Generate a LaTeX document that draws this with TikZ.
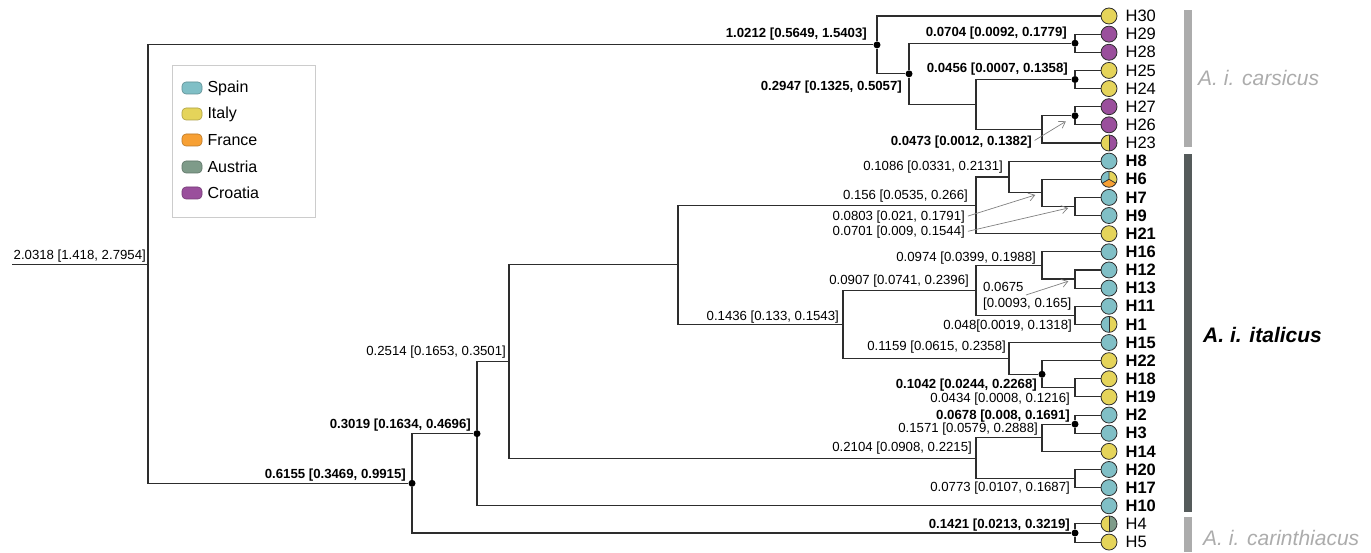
\documentclass[tikz,border=0pt]{standalone}
\usepackage{fontspec}
\setmainfont{Liberation Sans}
\usetikzlibrary{positioning, arrows.meta, calc}

\definecolor{spain}{RGB}{128,191,198}
\definecolor{italy}{RGB}{229,212,90}
\definecolor{france}{RGB}{247,160,52}
\definecolor{austria}{RGB}{126,155,137}
\definecolor{croatia}{RGB}{154,79,156}
\definecolor{branchgray}{RGB}{45,45,45}
\definecolor{barlight}{RGB}{172,172,172}
\definecolor{bardark}{RGB}{85,91,91}

\begin{document}
\begin{tikzpicture}[
        x=1pt, y=1pt,
        label distance=8pt,
        % Define Node Styles
        leaf/.style={draw=branchgray, line width=0.8pt, circle, minimum size=16pt, inner sep=0pt},
        hap/.style={font=\fontsize{16.5}{18}\selectfont, inner sep=0pt},
        hapb/.style={font=\fontsize{16.5}{18}\selectfont\bfseries, inner sep=0pt},
        brl/.style={font=\fontsize{13.2}{15}\selectfont, inner sep=0pt, anchor=east},
        brlb/.style={brl, font=\fontsize{13.2}{15}\selectfont\bfseries},
        dot/.style={circle, fill=black, inner sep=0pt, minimum size=7pt},
        swatch/.style={rectangle, rounded corners=4pt, minimum width=20pt, minimum height=12pt, inner sep=0pt, line width=0.6pt},
        legtext/.style={font=\fontsize{16}{18}\selectfont, inner sep=0pt},
        subsp/.style={font=\fontsize{21}{24}\selectfont\itshape, inner sep=0pt, anchor=west},
        % Pie charts for shared haplotypes
        half/.style 2 args={path picture={
            \fill[#1] (path picture bounding box.south west) rectangle (path picture bounding box.north);
            \fill[#2] (path picture bounding box.north) rectangle (path picture bounding box.south east);
            \draw[branchgray, line width=0.7pt] (path picture bounding box.north) -- (path picture bounding box.south);}},
        tri/.style={path picture={
            \fill[italy] (path picture bounding box.center) -- +(90:9) arc[start angle=90, end angle=-30, radius=9] -- cycle;
            \fill[france] (path picture bounding box.center) -- +(-30:9) arc[start angle=-30, end angle=-150, radius=9] -- cycle;
            \fill[spain] (path picture bounding box.center) -- +(210:9) arc[start angle=210, end angle=90, radius=9] -- cycle;
            \draw[branchgray, line width=0.7pt] (path picture bounding box.center) -- +(90:9)
                (path picture bounding box.center) -- +(-30:9) (path picture bounding box.center) -- +(210:9);}},
        % Define Connector Styles
        branch/.style={draw=branchgray, line width=1.1pt},
        pointer/.style={-{Straight Barb[length=6pt, width=8pt]}, gray, line width=0.7pt, shorten >=7pt, shorten <=3pt}
    ]
    \useasboundingbox (0,0) rectangle (1371,552);

    % Legend
    \node[draw=black!20, line width=0.8pt, minimum width=143pt, minimum height=152pt, anchor=north west] (legend) at (172,487) {};
    \node[swatch, fill=spain, draw=spain!75!black] (swSpain) at (192,464) {};
    \node[swatch, fill=italy, draw=italy!75!black] (swItaly) at (192,438) {};
    \node[swatch, fill=france, draw=france!75!black] (swFrance) at (192,412) {};
    \node[swatch, fill=austria, draw=austria!75!black] (swAustria) at (192,385) {};
    \node[swatch, fill=croatia, draw=croatia!75!black] (swCroatia) at (192,359) {};
    \node[legtext, right=5pt of swSpain] (tSpain) {Spain};
    \node[legtext, right=5pt of swItaly] (tItaly) {Italy};
    \node[legtext, right=5pt of swFrance] (tFrance) {France};
    \node[legtext, right=5pt of swAustria] (tAustria) {Austria};
    \node[legtext, right=5pt of swCroatia] (tCroatia) {Croatia};

    % Haplotypes
    \node[leaf, fill=italy, label={[hap]right:H30}] (H30) at (1109,536.00) {};
    \node[leaf, fill=croatia, label={[hap]right:H29}] (H29) at (1109,517.86) {};
    \node[leaf, fill=croatia, label={[hap]right:H28}] (H28) at (1109,499.72) {};
    \node[leaf, fill=italy, label={[hap]right:H25}] (H25) at (1109,481.58) {};
    \node[leaf, fill=italy, label={[hap]right:H24}] (H24) at (1109,463.44) {};
    \node[leaf, fill=croatia, label={[hap]right:H27}] (H27) at (1109,445.30) {};
    \node[leaf, fill=croatia, label={[hap]right:H26}] (H26) at (1109,427.16) {};
    \node[leaf, half={italy}{croatia}, label={[hap]right:H23}] (H23) at (1109,409.02) {};
    \node[leaf, fill=spain, label={[hapb]right:H8}] (H8) at (1109,390.88) {};
    \node[leaf, tri, label={[hapb]right:H6}] (H6) at (1109,372.74) {};
    \node[leaf, fill=spain, label={[hapb]right:H7}] (H7) at (1109,354.60) {};
    \node[leaf, fill=spain, label={[hapb]right:H9}] (H9) at (1109,336.46) {};
    \node[leaf, fill=italy, label={[hapb]right:H21}] (H21) at (1109,318.32) {};
    \node[leaf, fill=spain, label={[hapb]right:H16}] (H16) at (1109,300.18) {};
    \node[leaf, fill=spain, label={[hapb]right:H12}] (H12) at (1109,282.04) {};
    \node[leaf, fill=spain, label={[hapb]right:H13}] (H13) at (1109,263.90) {};
    \node[leaf, fill=spain, label={[hapb]right:H11}] (H11) at (1109,245.76) {};
    \node[leaf, half={spain}{italy}, label={[hapb]right:H1}] (H1) at (1109,227.62) {};
    \node[leaf, fill=spain, label={[hapb]right:H15}] (H15) at (1109,209.48) {};
    \node[leaf, fill=italy, label={[hapb]right:H22}] (H22) at (1109,191.34) {};
    \node[leaf, fill=italy, label={[hapb]right:H18}] (H18) at (1109,173.20) {};
    \node[leaf, fill=italy, label={[hapb]right:H19}] (H19) at (1109,155.06) {};
    \node[leaf, fill=spain, label={[hapb]right:H2}] (H2) at (1109,136.92) {};
    \node[leaf, fill=spain, label={[hapb]right:H3}] (H3) at (1109,118.78) {};
    \node[leaf, fill=italy, label={[hapb]right:H14}] (H14) at (1109,100.64) {};
    \node[leaf, fill=spain, label={[hapb]right:H20}] (H20) at (1109,82.50) {};
    \node[leaf, fill=spain, label={[hapb]right:H17}] (H17) at (1109,64.36) {};
    \node[leaf, fill=spain, label={[hapb]right:H10}] (H10) at (1109,46.22) {};
    \node[leaf, half={italy}{austria}, label={[hap]right:H4}] (H4) at (1109,28.08) {};
    \node[leaf, fill=italy, label={[hap]right:H5}] (H5) at (1109,9.94) {};

    % Internal nodes
    \coordinate (stem) at (12,287.885);
    \coordinate (root) at (148,287.885);
    \node[dot] (cG) at (877,507.09) {};
    \node[dot] (cF) at (909,478.18) {};
    \node[dot] (cA) at (1075,508.79) {};
    \coordinate (cE) at (976,447.57);
    \node[dot] (cB) at (1075,472.51) {};
    \coordinate (cD) at (1042,422.625);
    \node[dot] (cC) at (1075,436.23) {};
    \node[dot] (kB) at (412,68.68) {};
    \node[dot] (kA) at (1075,19.01) {};
    \node[dot] (iS) at (477,118.355) {};
    \coordinate (iR) at (509,190.49) {};
    \coordinate (iM) at (678,287.14);
    \coordinate (iD) at (976,346.66);
    \coordinate (iC) at (1009,375.01);
    \coordinate (iB) at (1042,359.135);
    \coordinate (iA) at (1075,345.53);
    \coordinate (iL) at (843,227.62);
    \coordinate (iH) at (976,261.63);
    \coordinate (iF) at (1042,286.575);
    \coordinate (iE) at (1075,272.97);
    \coordinate (iG) at (1075,236.69);
    \coordinate (iK) at (1009,193.61);
    \node[dot] (iJ) at (1042,177.735) {};
    \coordinate (iI) at (1075,164.13);
    \coordinate (iQ) at (976,93.84);
    \coordinate (iO) at (1042,114.245);
    \node[dot] (iN) at (1075,127.85) {};
    \coordinate (iP) at (1075,73.43);

    % Branches
    \draw[branch] (stem) -- (root) (root) |- (cG) (root) |- (kB);
    \draw[branch] (cG) |- (H30) (cG) |- (cF) (cF) |- (cA) (cF) |- (cE);
    \draw[branch] (cA) |- (H29) (cA) |- (H28) (cE) |- (cB) (cE) |- (cD);
    \draw[branch] (cB) |- (H25) (cB) |- (H24) (cD) |- (cC) (cD) |- (H23);
    \draw[branch] (cC) |- (H27) (cC) |- (H26);
    \draw[branch] (kB) |- (iS) (kB) |- (kA) (kA) |- (H4) (kA) |- (H5);
    \draw[branch] (iS) |- (iR) (iS) |- (H10) (iR) |- (iM) (iR) |- (iQ);
    \draw[branch] (iM) |- (iD) (iM) |- (iL) (iD) |- (iC) (iD) |- (H21);
    \draw[branch] (iC) |- (H8) (iC) |- (iB) (iB) |- (H6) (iB) |- (iA);
    \draw[branch] (iA) |- (H7) (iA) |- (H9);
    \draw[branch] (iL) |- (iH) (iL) |- (iK) (iH) |- (iF) (iH) |- (iG);
    \draw[branch] (iF) |- (H16) (iF) |- (iE) (iE) |- (H12) (iE) |- (H13);
    \draw[branch] (iG) |- (H11) (iG) |- (H1);
    \draw[branch] (iK) |- (H15) (iK) |- (iJ) (iJ) |- (H22) (iJ) |- (iI);
    \draw[branch] (iI) |- (H18) (iI) |- (H19);
    \draw[branch] (iQ) |- (iO) (iQ) |- (iP) (iO) |- (iN) (iO) |- (H14);
    \draw[branch] (iN) |- (H2) (iN) |- (H3) (iP) |- (H20) (iP) |- (H17);

    % Branch lengths with intervals
    \node[brl] (l20318) at (146,296) {2.0318 [1.418, 2.7954]};
    \node[brlb] (l10212) at (867,518) {1.0212 [0.5649, 1.5403]};
    \node[brlb] (l00704) at (1067,519) {0.0704 [0.0092, 0.1779]};
    \node[brlb] (l02947) at (902,465) {0.2947 [0.1325, 0.5057]};
    \node[brlb] (l00456) at (1068,483) {0.0456 [0.0007, 0.1358]};
    \node[brlb] (l00473) at (1032,410) {0.0473 [0.0012, 0.1382]};
    \node[brl] (l01086) at (1003,385) {0.1086 [0.0331, 0.2131]};
    \node[brl] (l0156) at (968,356) {0.156 [0.0535, 0.266]};
    \node[brl] (l00803) at (965,335) {0.0803 [0.021, 0.1791]};
    \node[brl] (l00701) at (965,320) {0.0701 [0.009, 0.1544]};
    \node[brl] (l00974) at (1036,294) {0.0974 [0.0399, 0.1988]};
    \node[brl] (l00907) at (969,271) {0.0907 [0.0741, 0.2396]};
    \node[brl, anchor=west] (l00675a) at (983,265) {0.0675};
    \node[brl, anchor=west] (l00675b) at (983,248) {[0.0093, 0.165]};
    \node[brl] (l0048) at (1072,226) {0.048[0.0019, 0.1318]};
    \node[brl] (l01436) at (839,235) {0.1436 [0.133, 0.1543]};
    \node[brl] (l01159) at (1006,205) {0.1159 [0.0615, 0.2358]};
    \node[brlb] (l01042) at (1037,167) {0.1042 [0.0244, 0.2268]};
    \node[brl] (l00434) at (1070,153) {0.0434 [0.0008, 0.1216]};
    \node[brlb] (l00678) at (1070,136) {0.0678 [0.008, 0.1691]};
    \node[brl] (l01571) at (1038,123) {0.1571 [0.0579, 0.2888]};
    \node[brl] (l02104) at (972,104) {0.2104 [0.0908, 0.2215]};
    \node[brl] (l00773) at (1070,64) {0.0773 [0.0107, 0.1687]};
    \node[brlb] (l01421) at (1070,27) {0.1421 [0.0213, 0.3219]};
    \node[brl] (l02514) at (506,200) {0.2514 [0.1653, 0.3501]};
    \node[brlb] (l03019) at (471,127) {0.3019 [0.1634, 0.4696]};
    \node[brlb] (l06155) at (406,77) {0.6155 [0.3469, 0.9915]};

    % Pointers to small nodes
    \coordinate (a0675) at (1026,257);
    \draw[pointer] (l00473.east) -- (cC);
    \draw[pointer] (l00803.east) -- (iB);
    \draw[pointer] (l00701.east) -- (iA);
    \draw[pointer, shorten <=0pt] (a0675) -- (iE);

    % Subspecies bars
    \fill[barlight] (1184,542) rectangle (1192,405);
    \fill[bardark] (1184,398) rectangle (1192,40);
    \fill[barlight] (1184,35) rectangle (1192,0);
    \node[subsp, text=barlight] (carsicus) at (1198,474) {A. i. carsicus};
    \node[subsp, font=\fontsize{21}{24}\selectfont\bfseries\itshape] (italicus) at (1203,217) {A. i. italicus};
    \node[subsp, text=barlight] (carinthiacus) at (1203,14) {A. i. carinthiacus};

\end{tikzpicture}
\end{document}
